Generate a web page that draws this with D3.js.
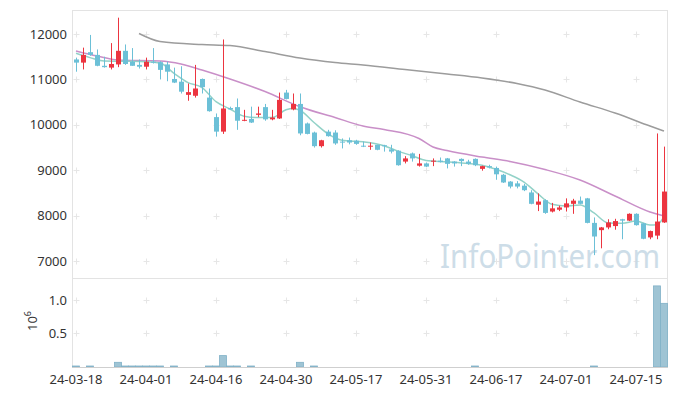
<!DOCTYPE html>
<html>
<head>
<meta charset="utf-8">
<script src="https://cdn.jsdelivr.net/npm/d3@7"></script>
<style>
  body { margin: 0; background: #fff; }
  text { font-family: "Noto Sans", "Open Sans", sans-serif; }
</style>
</head>
<body>
<div id="chart"></div>
<script>
// trading days (categories)
const dates = [
  "24-03-18","24-03-19","24-03-20","24-03-21","24-03-22","24-03-25","24-03-26","24-03-27","24-03-28","24-03-29",
  "24-04-01","24-04-02","24-04-03","24-04-04","24-04-05","24-04-08","24-04-09","24-04-11","24-04-12","24-04-15",
  "24-04-16","24-04-17","24-04-18","24-04-19","24-04-22","24-04-23","24-04-24","24-04-25","24-04-26","24-04-29",
  "24-04-30","24-05-02","24-05-03","24-05-07","24-05-08","24-05-09","24-05-10","24-05-13","24-05-14","24-05-16",
  "24-05-17","24-05-20","24-05-21","24-05-22","24-05-23","24-05-24","24-05-27","24-05-28","24-05-29","24-05-30",
  "24-05-31","24-06-03","24-06-04","24-06-05","24-06-07","24-06-10","24-06-11","24-06-12","24-06-13","24-06-14",
  "24-06-17","24-06-18","24-06-19","24-06-20","24-06-21","24-06-24","24-06-25","24-06-26","24-06-27","24-06-28",
  "24-07-01","24-07-02","24-07-03","24-07-04","24-07-05","24-07-08","24-07-09","24-07-10","24-07-11","24-07-12",
  "24-07-15","24-07-16","24-07-17","24-07-18","24-07-19"
];

const open = [11440,11370,11600,11540,11300,11260,11330,11630,11390,11320,
  11280,11390,11380,11330,11010,10950,10660,10640,11010,10600,
  10170,9850,10370,10390,10090,10130,10220,10390,10120,10140,
  10710,10340,10460,10030,9830,9530,9850,9830,9630,9660,
  9650,9540,9520,9560,9550,9460,9430,9190,9370,9100,
  9150,9190,9210,9260,9190,9250,9190,9250,9030,9090,
  9050,8900,8750,8710,8660,8510,8240,8340,8090,8130,
  8180,8260,8330,8380,7840,7680,7740,7770,7920,7890,
  8040,7830,7520,7560,7850];
const high = [11480,11700,11980,11660,11500,11800,12360,11770,11690,11440,
  11480,11690,11400,11390,11260,11290,10910,11320,11020,10800,
  10250,11880,10400,10580,10330,10400,10400,10460,10330,10710,
  10770,10690,10690,10050,9850,9670,9890,9880,9700,9720,
  9670,9630,9610,9560,9560,9560,9440,9310,9390,9360,
  9170,9260,9280,9270,9200,9260,9230,9260,9100,9120,
  9080,8920,8760,8760,8700,8560,8490,8360,8280,8220,
  8380,8370,8420,8390,7960,7750,7920,7930,7930,8050,
  8050,7840,7670,9810,9520];
const low = [11170,11220,11520,11290,11260,11220,11270,11320,11300,11240,
  11220,11350,11000,10960,10920,10690,10530,10600,10690,10290,
  9740,9800,10330,9890,10080,10040,10170,10090,10100,10130,
  10560,10320,9770,9790,9500,9500,9740,9560,9480,9570,
  9560,9510,9450,9440,9410,9370,9100,9150,9190,9080,
  9070,9090,9170,9040,9080,9090,9120,9090,8990,9040,
  8790,8720,8600,8600,8540,8250,8100,8040,8070,8100,
  8090,8040,8250,7830,7130,7280,7700,7690,7480,7880,
  7780,7480,7480,7480,7840];
const close = [11370,11540,11540,11300,11270,11340,11630,11340,11300,11280,
  11390,11370,11210,11170,10930,10730,10720,10800,10830,10300,
  9850,10360,10340,10090,10110,10050,10250,10120,10160,10550,
  10570,10460,9810,9800,9530,9660,9750,9590,9610,9610,
  9580,9520,9540,9450,9530,9410,9110,9260,9260,9150,
  9080,9210,9180,9140,9150,9200,9140,9110,9090,9060,
  8910,8730,8640,8640,8560,8260,8310,8060,8160,8180,
  8270,8330,8260,7840,7540,7740,7850,7880,7890,8040,
  7790,7490,7660,7870,8530];

// volume in millions
const volume = [0.015,0,0.015,0,0,0,0.07,0.015,0.015,0.015,
  0.015,0.015,0.015,0,0.015,0,0,0,0,0.015,
  0.015,0.17,0.015,0.015,0,0.015,0,0,0,0,
  0,0,0.07,0,0.015,0,0,0,0,0,
  0,0,0,0,0,0,0,0,0,0,
  0,0,0,0,0,0,0,0.015,0,0,
  0,0,0,0,0,0,0,0,0,0,
  0,0,0,0,0.015,0,0,0,0,0,
  0,0,0,1.21,0.95];

// moving averages: [day index, value]
const ma5 = [[0,11575],[2,11480],[4,11405],[8,11400],[12,11360],[14,11134],[16,10930],[18,10820],
  [20,10510],[22,10348],[24,10190],[26,10160],[28,10160],[30,10330],[31,10360],[32,10320],[34,10050],
  [36,9800],[38,9660],[41,9625],[44,9540],[46,9420],[48,9320],[50,9215],[53,9185],[56,9150],[58,9110],
  [60,9020],[62,8900],[64,8740],[66,8480],[68,8250],[70,8211],[72,8233],[74,8060],[76,7840],[78,7830],
  [80,7880],[82,7793],[83,7800],[84,7976]];
const ma20 = [[0,11626],[3,11515],[6,11427],[12,11405],[15,11339],[18,11207],[22,11009],[27,10733],
  [32,10399],[37,10161],[41,9974],[44,9896],[49,9698],[51,9511],[53,9434],[58,9291],[62,9192],
  [67,9015],[72,8784],[77,8432],[82,8079],[84,7991]];
const ma60 = [[9,12011],[12,11835],[18,11769],[22,11747],[27,11615],[32,11471],[37,11372],[41,11317],
  [47,11218],[53,11119],[58,11031],[63,10910],[67,10767],[72,10502],[77,10260],[82,9974],[84,9863]];

const priceTicks = [7000, 8000, 9000, 10000, 11000, 12000];
const volTicks = [0.5, 1.0];
const dateTickIdx = [0, 10, 20, 30, 40, 50, 60, 70, 80];

const W = 677, H = 396;
const left = 72.5, right = 667.5;
const pTop = 10, pBot = 278, vTop = 278, vBot = 367;

const svg = d3.select("#chart").append("svg")
  .attr("width", W).attr("height", H);

const x = d3.scaleLinear().domain([-0.5, dates.length - 0.5]).range([left, right]);
const y = d3.scaleLinear().domain([6626, 12529]).range([pBot, pTop]);
const yv = d3.scaleLinear().domain([0, 1.328]).range([vBot, vTop]);

// panel frames
const frame = svg.append("g").attr("stroke", "#e3e3e3").attr("fill", "none");
frame.append("rect").attr("x", left).attr("y", pTop + 0.5).attr("width", right - left).attr("height", pBot - pTop);
frame.append("rect").attr("x", left).attr("y", vTop + 0.5).attr("width", right - left).attr("height", vBot - vTop);

// grid crosses
const crosses = svg.append("g").attr("stroke", "#e6e6e6").attr("stroke-width", 1);
function cross(cx, cy) {
  crosses.append("line").attr("x1", cx - 3).attr("x2", cx + 3).attr("y1", cy).attr("y2", cy);
  crosses.append("line").attr("x1", cx).attr("x2", cx).attr("y1", cy - 3).attr("y2", cy + 3);
}
dateTickIdx.forEach(i => {
  const cx = Math.round(x(i)) + 0.5;
  priceTicks.forEach(p => cross(cx, Math.round(y(p)) + 0.5));
  volTicks.forEach(v => cross(cx, Math.round(yv(v)) + 0.5));
});

// watermark
svg.append("text")
  .attr("x", 660).attr("y", 268)
  .attr("text-anchor", "end")
  .attr("font-size", 32)
  .attr("textLength", 220)
  .attr("lengthAdjust", "spacingAndGlyphs")
  .attr("fill", "#c5d8e4")
  .attr("opacity", 0.85)
  .text("InfoPointer.com");

// moving average lines
const line = d3.line().x(d => x(d[0])).y(d => y(d[1])).curve(d3.curveMonotoneX);
svg.append("path").datum(ma60).attr("d", line)
  .attr("fill", "none").attr("stroke", "#9c9c9c").attr("stroke-width", 1.5);
svg.append("path").datum(ma20).attr("d", line)
  .attr("fill", "none").attr("stroke", "#c98fc8").attr("stroke-width", 1.5);
svg.append("path").datum(ma5).attr("d", line)
  .attr("fill", "none").attr("stroke", "#93d2c8").attr("stroke-width", 1.5);

// candles
const upCol = "#ec3540", downCol = "#6cc0d7";
const candles = svg.append("g").selectAll("g")
  .data(d3.range(dates.length))
  .join("g")
  .attr("fill", i => close[i] >= open[i] ? upCol : downCol);

candles.append("rect")
  .attr("x", i => Math.round(x(i)))
  .attr("width", 1)
  .attr("y", i => y(high[i]))
  .attr("height", i => y(low[i]) - y(high[i]));

candles.append("rect")
  .attr("x", i => Math.round(x(i)) - 2)
  .attr("width", 5)
  .attr("y", i => y(Math.max(open[i], close[i])))
  .attr("height", i => Math.max(1, y(Math.min(open[i], close[i])) - y(Math.max(open[i], close[i]))));

// volume bars
svg.append("g").selectAll("rect")
  .data(d3.range(dates.length).filter(i => volume[i] > 0))
  .join("rect")
  .attr("x", i => x(i - 0.5))
  .attr("width", x(1) - x(0))
  .attr("y", i => yv(volume[i]))
  .attr("height", i => vBot - yv(volume[i]))
  .attr("fill", "#9fc4d4")
  .attr("stroke", "#7fb1c7")
  .attr("stroke-width", 0.8);

// axes line at bottom
svg.append("line")
  .attr("x1", left).attr("x2", right).attr("y1", vBot + 0.5).attr("y2", vBot + 0.5)
  .attr("stroke", "#cfcfcf");

// price axis labels
svg.append("g").selectAll("text")
  .data(priceTicks)
  .join("text")
  .attr("x", 67).attr("y", d => y(d)).attr("dy", "0.35em")
  .attr("text-anchor", "end").attr("font-size", 13).attr("fill", "#333")
  .text(d => d);

// volume axis labels
svg.append("g").selectAll("text")
  .data(volTicks)
  .join("text")
  .attr("x", 67).attr("y", d => yv(d)).attr("dy", "0.35em")
  .attr("text-anchor", "end").attr("font-size", 13).attr("fill", "#333")
  .text(d => d3.format(".1f")(d));

const unit = svg.append("text")
  .attr("transform", "translate(37,321) rotate(-90)")
  .attr("text-anchor", "middle").attr("font-size", 13).attr("fill", "#333");
unit.append("tspan").text("10");
unit.append("tspan").attr("dy", -6).attr("font-size", 9).text("6");

// date axis labels
svg.append("g").selectAll("text")
  .data(dateTickIdx)
  .join("text")
  .attr("x", i => x(i)).attr("y", 384)
  .attr("text-anchor", "middle").attr("font-size", 13).attr("fill", "#333")
  .text(i => dates[i]);
</script>
</body>
</html>
